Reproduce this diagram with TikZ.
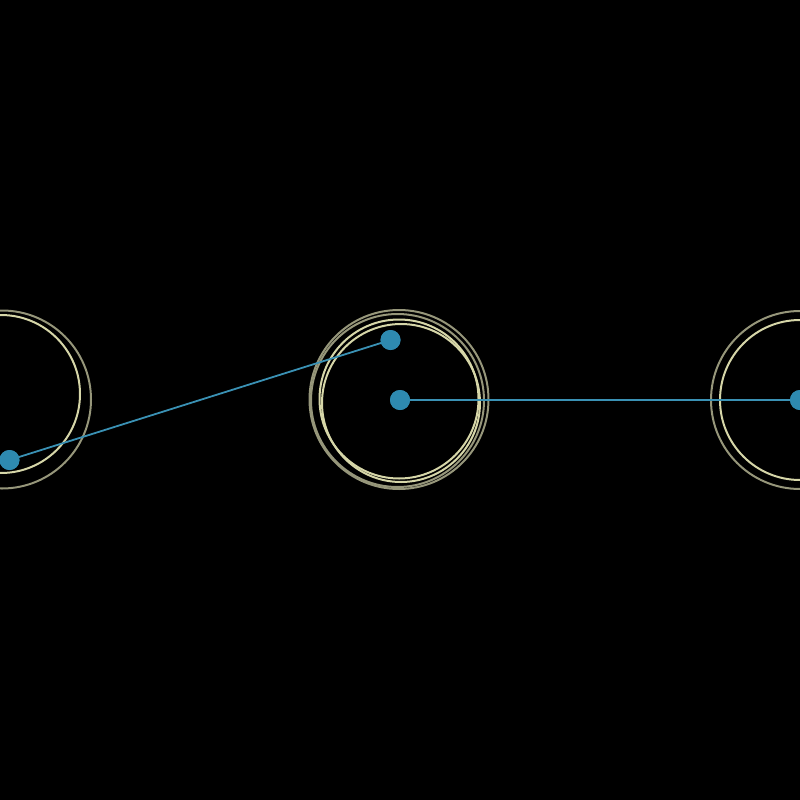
\documentclass[tikz,border=0pt]{standalone}
\begin{document}
\begin{tikzpicture}[x=1pt,y=-1pt,
  pale/.style={draw={rgb,255:red,214;green,214;blue,168},line width=2pt},
  grayring/.style={draw={rgb,255:red,150;green,150;blue,122},line width=2pt},
  dot/.style={circle,fill={rgb,255:red,46;green,138;blue,176},inner sep=0pt,minimum size=20pt},
  link/.style={draw={rgb,255:red,58;green,145;blue,180},line width=1.8pt}]
\fill[black] (0,0) rectangle (800,800);
\useasboundingbox (0,0) rectangle (800,800);
% left cluster
\draw[grayring] (2,399.5) circle (89);
\draw[pale] (1,394) circle (79);
% centre cluster
\draw[grayring] (399,399.5) circle (89.5);
\draw[grayring] (397.5,400.5) circle (86.5);
\draw[pale] (399,399) circle (79.5);
\draw[pale] (401,403) circle (79);
% right cluster
\draw[grayring] (800,400) circle (89);
\draw[pale] (800,400) circle (80);
% links
\node[dot] (l) at (9.5,460) {};
\node[dot] (ct) at (390.5,340) {};
\node[dot] (c) at (400,400) {};
\node[dot] (r) at (800,400) {};
\draw[link] (l.center) -- (ct.center);
\draw[link] (c.center) -- (r.center);
\node[dot] at (l.center) {};
\node[dot] at (ct.center) {};
\node[dot] at (c.center) {};
\node[dot] at (r.center) {};
\end{tikzpicture}
\end{document}
